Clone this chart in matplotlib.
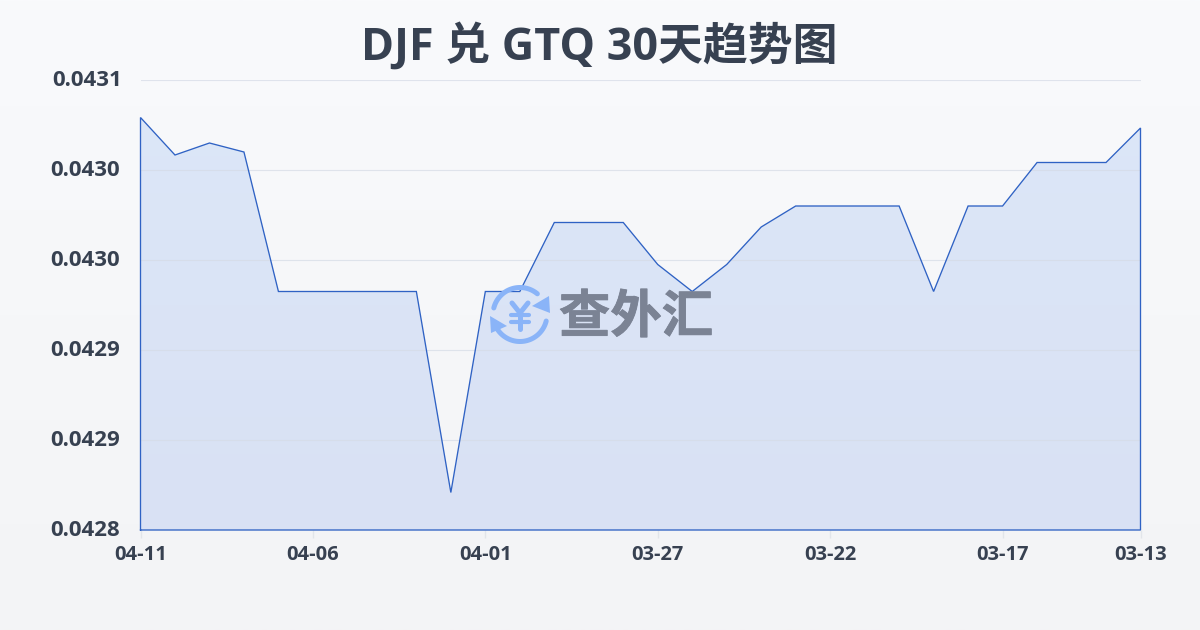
import numpy as np
import matplotlib
matplotlib.use("Agg")
import matplotlib.pyplot as plt
import matplotlib.patheffects as pe
from matplotlib.patches import Polygon
from matplotlib.colors import LinearSegmentedColormap
from matplotlib.transforms import ScaledTranslation

FONT = ['Open Sans', 'Noto Sans CJK SC', 'DejaVu Sans']
plt.rcParams['font.family'] = FONT

title = "DJF 兑 GTQ 30天趋势图"
dates = ["04-11", "04-06", "04-01", "03-27", "03-22", "03-17", "03-13"]
date_idx = [0, 5, 10, 15, 20, 25, 29]
yticks = [0.0428, 0.04286, 0.04292, 0.04298, 0.04304, 0.0431]
values = [0.043075, 0.04305, 0.043058, 0.043052, 0.042959, 0.042959, 0.042959,
          0.042959, 0.042959, 0.042825, 0.042959, 0.042959, 0.043005, 0.043005,
          0.043005, 0.042977, 0.042959, 0.042977, 0.043002, 0.043016, 0.043016,
          0.043016, 0.043016, 0.042959, 0.043016, 0.043016, 0.043045, 0.043045,
          0.043045, 0.043068]

W, H = 1200, 630
fig = plt.figure(figsize=(W / 100, H / 100), dpi=100)

bg = fig.add_axes([0, 0, 1, 1], zorder=0)
bg.axis("off")
bg.imshow(np.linspace(0, 1, 256).reshape(-1, 1), aspect="auto",
          cmap=LinearSegmentedColormap.from_list("bg", ["#f9fafc", "#f3f4f6"]),
          extent=[0, 1, 0, 1])

ax = fig.add_axes([140.5 / W, 1 - 530 / H, 1000 / W, 450 / H], zorder=1)
ax.patch.set_alpha(0)
x = np.arange(len(values))

for s in ax.spines.values():
    s.set_visible(False)
ax.set_yticks(yticks)
ax.set_yticklabels([f"{v:.4f}" for v in yticks], fontsize=16, fontweight="bold",
                   color="#374151", family=FONT)
ax.set_xticks(date_idx)
ax.set_xticklabels(dates, fontsize=14.5, fontweight="bold", color="#374151", family=FONT)
ax.tick_params(axis="y", length=0, pad=14.5)
ax.tick_params(axis="x", length=6, width=1, color="#e2e5ea", pad=4.5)
for i, lab in enumerate(ax.get_yticklabels()):
    dx = 2 if i == len(yticks) - 1 else 0
    lab.set_transform(lab.get_transform() + ScaledTranslation(dx / 100, 2 / 100, fig.dpi_scale_trans))
ax.grid(axis="y", color="#d5dbe6", lw=0.8, alpha=0.7, zorder=1.6)
ax.set_axisbelow("line")

poly = ax.fill_between(x, values, yticks[0], color="none")
grad = ax.imshow(np.linspace(0, 1, 256).reshape(-1, 1), aspect="auto",
                 cmap=LinearSegmentedColormap.from_list("fill", ["#dce7f8", "#d9e1f4"]),
                 extent=[0, len(values) - 1, yticks[0], yticks[-1]], zorder=0.5)
grad.set_clip_path(poly.get_paths()[0], transform=ax.transData)
ax.set_xlim(0, len(values) - 1)
ax.set_ylim(yticks[0], yticks[-1])

ox = np.r_[x[0], x, x[-1], x[0]]
oy = np.r_[yticks[0], values, yticks[0], yticks[0]]
ax.plot(ox, oy, color="#2f62c4", lw=0.95, zorder=2, clip_on=False, solid_joinstyle="miter")

fig.text(599 / W, 1 - 47 / H, title, ha="center", va="center", fontsize=32.3,
         fontweight="bold", color="#374151", family=FONT)

# watermark, drawn in pixel coordinates
wm = fig.add_axes([0, 0, 1, 1], zorder=3)
wm.patch.set_alpha(0)
wm.axis("off")
wm.set_xlim(0, W)
wm.set_ylim(H, 0)
blue = "#8ab4f8"
cx, cy, r = 520, 314.5, 27


def arc(a0, a1):
    t = np.radians(np.linspace(a0, a1, 60))
    wm.plot(cx + r * np.cos(t), cy - r * np.sin(t), color=blue, lw=3.6, solid_capstyle="round")


arc(166, 50)
arc(214, 346)
wm.add_patch(Polygon([(549, 296), (550, 313), (532, 306)], closed=True, color=blue, lw=0))
wm.add_patch(Polygon([(490, 316), (507, 326), (491, 333)], closed=True, color=blue, lw=0))
wm.plot([512, 520, 528], [303, 313, 303], color=blue, lw=3.6, solid_capstyle="round", solid_joinstyle="round")
wm.plot([520, 520], [313, 329], color=blue, lw=3.6, solid_capstyle="round")
wm.plot([511, 529], [315, 315], color=blue, lw=3, solid_capstyle="round")
wm.plot([511, 529], [322, 322], color=blue, lw=3, solid_capstyle="round")
t = wm.text(636, 317, "查外汇", ha="center", va="center", fontsize=37, fontweight="bold",
            color="#7b8394", family=['Noto Sans CJK SC'])
t.set_path_effects([pe.withStroke(linewidth=0.6, foreground="#7b8394")])

fig.savefig("out.png", dpi=100)
